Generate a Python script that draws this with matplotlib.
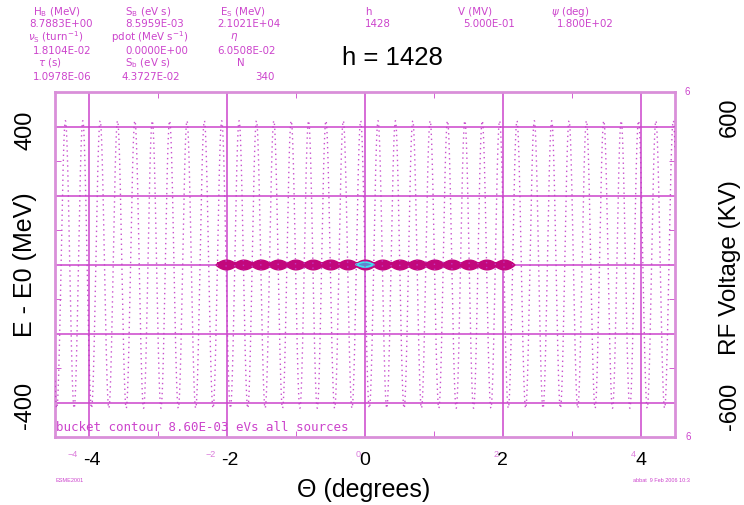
import numpy as np
import matplotlib
matplotlib.use('Agg')
import matplotlib.pyplot as plt

plt.rcParams['font.family'] = ['Liberation Sans', 'DejaVu Sans']

# machine / plot parameters
harmonic = 1428
rf_volt_kv = 500.0      # V = 5.000E-01 MV
rf_phase_deg = 180.0    # psi
bucket_index = list(range(-8, 9))   # filled buckets, -2.1 .. 2.1 deg
bucket_half_height = 14.0           # MeV, lumps of the filled band
band_half_height = 7.0              # MeV, waist of the band
core_half_height = 7.0              # MeV, centre bucket outline

x_grid = [-4, -2, 0, 2, 4]
y_grid = [-400, -200, 0, 200, 400]
x_minor = [-3, -1, 1, 3]
y_minor = [-300, -100, 100, 300]

header = [
    # (x px, y px, text)
    (33, 12, r'H$_{\rm B}$ (MeV)'), (125, 12, r'S$_{\rm B}$ (eV s)'), (220, 12, r'E$_{\rm S}$ (MeV)'),
    (365, 12, 'h'), (458, 12, 'V (MV)'), (551, 12, r'$\psi$ (deg)'),
    (29, 24, '8.7883E+00'), (125, 24, '8.5959E-03'), (217, 24, '2.1021E+04'),
    (365, 24, '1428'), (463, 24, '5.000E-01'), (557, 24, '1.800E+02'),
    (28, 37, r'$\nu_{\rm S}$ (turn$^{-1}$)'), (111, 37, r'pdot (MeV s$^{-1}$)'), (230, 37, r'$\eta$'),
    (33, 51, '1.8104E-02'), (125, 51, '0.0000E+00'), (217, 51, '6.0508E-02'),
    (38, 63, r'$\tau$ (s)'), (125, 63, r'S$_{\rm b}$ (eV s)'), (237, 63, 'N'),
    (33, 77, '1.0978E-06'), (122, 77, '4.3727E-02'), (255, 77, '340'),
]

W, H = 744, 506
pink = '#cc44cc'
frame_pink = '#d98fd9'
band = '#c2077c'

fig = plt.figure(figsize=(W / 100, H / 100), dpi=100)
ax = fig.add_axes([55 / W, 1 - 438 / H, 620 / W, 345 / H])
ax.set_xlim(-4.5, 4.5)
ax.set_ylim(-500, 500)

for x in x_grid:
    ax.axvline(x, color=pink, lw=1.1, zorder=1)
for y in y_grid:
    ax.axhline(y, color=pink, lw=1.1, zorder=1)

# RF voltage on its own (right) scale
ax2 = ax.twinx()
ax2.set_ylim(-600, 600)
theta = np.linspace(-4.5, 4.5, 30000)
volt = rf_volt_kv * np.sin(np.radians(harmonic * theta + rf_phase_deg))
ax2.plot(theta, volt, color='#c23ec8', lw=1.0, ls=(0, (1, 2.6)), alpha=0.9, zorder=2)
ax2.set_yticks([])

# filled buckets along E - E0 = 0
spacing = 360.0 / harmonic
phi = np.linspace(-np.pi, np.pi, 80)
edge = (bucket_index[-1] + 0.5) * spacing
ax.fill_between([-edge, edge], -band_half_height, band_half_height, color=band, lw=0, zorder=4)
for k in bucket_index:
    c = k * spacing
    xs = c + phi / (2 * np.pi) * spacing * 1.2
    ys = bucket_half_height * np.cos(phi / 2) ** 0.8
    ax.fill_between(xs, -ys, ys, color=band, lw=1.0, edgecolor=band, zorder=4)
xs = phi / (2 * np.pi) * spacing
ys = core_half_height * np.cos(phi / 2)
ax.fill_between(xs, -ys, ys, color='#5f86cf', zorder=5)
ax.plot(np.r_[xs, xs[::-1]], np.r_[ys, -ys[::-1]], color='#3fe3f0', lw=1.2, zorder=6)

ax.text(-4.49, -470, 'bucket contour 8.60E-03 eVs all sources', color=pink,
        fontsize=9, family='DejaVu Sans Mono', va='center', ha='left', zorder=7)

# frame and ticks
for s in ax.spines.values():
    s.set_color(frame_pink)
    s.set_linewidth(2)
ax.set_xticks([])
ax.set_xticks(x_minor, minor=True)
ax.tick_params(axis='x', which='minor', direction='in', length=4, color=pink,
               top=True, bottom=True, labelbottom=False)
ax.set_yticks(y_minor, minor=True)
ax.set_yticks([])
ax.tick_params(axis='y', which='minor', direction='in', length=4, color=pink,
               left=True, right=True, labelleft=False)
for s in ax2.spines.values():
    s.set_visible(False)

def px(x, y):
    return x / W, 1 - y / H

# tick labels: faint pink ones of the original plot, black ones over them
for x, lab in zip(x_grid, ['\u22124', '\u22122', '0', '2', '4']):
    neg = x < 0
    ax.text(x - (0.24 if neg else 0.1), -548, lab, color=pink, fontsize=6.5,
            ha='center', va='center', zorder=0, clip_on=False, alpha=0.7)
    ax.text(x + (0.04 if neg else 0.0), -565, lab.replace('\u2212', '-'), color='black',
            fontsize=14, ha='center', va='center', clip_on=False)
fig.text(*px(687, 92), '6', color=pink, fontsize=7, ha='center', va='center')
fig.text(*px(688, 437), '6', color=pink, fontsize=7, ha='center', va='center')

for x, y, t in header:
    fig.text(*px(x, y), t, color=pink, fontsize=7.4, ha='left', va='center',
             family='DejaVu Sans')

fig.text(*px(55, 481), 'ESME2001', color=pink, fontsize=4, ha='left', va='center')
fig.text(*px(633, 481), 'abbat  9 Feb 2006 10:3', color=pink, fontsize=4, ha='left', va='center')

# black overlay labels
fig.text(*px(392, 58), 'h = 1428', fontsize=18.5, ha='center', va='center')
fig.text(*px(364, 490), '\u0398 (degrees)', fontsize=18, ha='center', va='center')
fig.text(*px(25, 265), 'E - E0 (MeV)', fontsize=18, rotation=90, ha='center', va='center')
fig.text(*px(25, 130), '400', fontsize=17, rotation=90, ha='center', va='center')
fig.text(*px(25, 405), '-400', fontsize=17, rotation=90, ha='center', va='center')
fig.text(*px(730, 268), 'RF Voltage (KV)', fontsize=17.5, rotation=90, ha='center', va='center')
fig.text(*px(730, 117), '600', fontsize=17, rotation=90, ha='center', va='center')
fig.text(*px(730, 406), '-600', fontsize=17, rotation=90, ha='center', va='center')

fig.savefig('out.png', dpi=100)
